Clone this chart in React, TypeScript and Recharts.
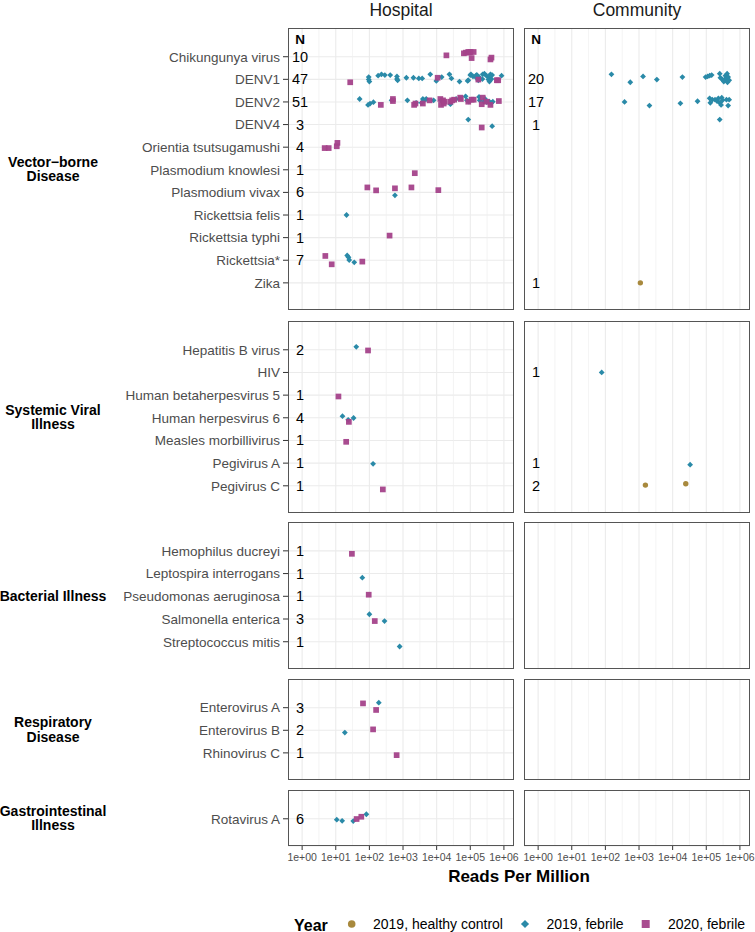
import React from "react";
import { ScatterChart, Scatter, XAxis, YAxis, CartesianGrid, ReferenceLine } from "recharts";

// [row index, log10(reads per million), vertical jitter in rows]
type Pt = [number, number, number];

const FONT = '"Liberation Sans", Arial, Helvetica, sans-serif';

const xMajor = [0, 1, 2, 3, 4, 5, 6];
const xMinor = [0.5, 1.5, 2.5, 3.5, 4.5, 5.5];
const xTickLabels = ["1e+00", "1e+01", "1e+02", "1e+03", "1e+04", "1e+05", "1e+06"];
const X_DOMAIN: [number, number] = [-0.42, 6.3];

const SERIES = {
  healthy: { name: "2019, healthy control", color: "#A8893D", shape: "circle" },
  febrile2019: { name: "2019, febrile", color: "#2A8AA8", shape: "diamond" },
  febrile2020: { name: "2020, febrile", color: "#A4428A", shape: "square" },
};

/* ---------- Vector-borne disease ---------- */
const vectorCategories = [
  "Chikungunya virus", "DENV1", "DENV2", "DENV4", "Orientia tsutsugamushi", "Plasmodium knowlesi",
  "Plasmodium vivax", "Rickettsia felis", "Rickettsia typhi", "Rickettsia*", "Zika",
];
const vectorHospitalN = [10, 47, 51, 3, 4, 1, 6, 1, 1, 7, null];
const vectorCommunityN = [null, 20, 17, 1, null, null, null, null, null, null, 1];

const vectorHospital2019: Pt[] = [
  [1, 1.98, -0.1], [1, 1.98, 0.01], [1, 2.0, 0.1], [1, 2.26, -0.16], [1, 2.36, -0.22], [1, 2.46, -0.19],
  [1, 2.62, -0.19], [1, 2.82, -0.13], [1, 2.82, -0.01], [1, 2.84, 0.04], [1, 3.1, -0.07], [1, 3.31, -0.07],
  [1, 3.47, -0.04], [1, 3.57, -0.04], [1, 3.81, -0.22], [1, 3.99, 0.07], [1, 4.15, -0.1], [1, 4.38, -0.22],
  [1, 4.44, -0.04], [1, 4.68, 0.1], [1, 4.92, 0.07], [1, 4.94, 0.04], [1, 5.0, -0.19], [1, 5.02, -0.22],
  [1, 5.08, -0.13], [1, 5.18, -0.19], [1, 5.18, -0.07], [1, 5.2, -0.19], [1, 5.24, 0.04], [1, 5.26, -0.1],
  [1, 5.28, -0.01], [1, 5.36, -0.01], [1, 5.37, -0.22], [1, 5.42, -0.25], [1, 5.48, -0.16], [1, 5.54, 0.01],
  [1, 5.55, -0.07], [1, 5.57, 0.1], [1, 5.6, -0.22], [1, 5.63, -0.01], [1, 5.65, -0.19], [1, 5.93, -0.16],
  [2, 1.71, -0.13], [2, 1.96, 0.13], [2, 2.02, 0.07], [2, 2.12, 0.01], [2, 2.66, -0.07], [2, 3.13, -0.07],
  [2, 3.39, 0.04], [2, 3.55, 0.04], [2, 3.59, -0.13], [2, 3.63, -0.07], [2, 3.69, -0.13], [2, 3.91, -0.07],
  [2, 4.13, -0.07], [2, 4.41, 0.1], [2, 4.58, -0.13], [2, 4.86, -0.25], [2, 4.9, -0.07], [2, 4.96, -0.01],
  [2, 5.26, -0.22], [2, 5.28, -0.07], [2, 5.4, -0.01], [2, 5.44, -0.13], [2, 5.49, 0.01], [2, 5.57, -0.01],
  [2, 5.63, 0.04], [2, 5.67, -0.01],
  [3, 4.94, -0.22], [3, 5.65, 0.07],
  [6, 2.76, 0.13],
  [7, 1.32, 0],
  [9, 1.34, -0.21], [9, 1.38, -0.13], [9, 1.4, -0.01], [9, 1.55, 0.09],
];
const vectorHospital2020: Pt[] = [
  [0, 4.29, -0.06], [0, 4.81, -0.15], [0, 4.87, -0.18], [0, 4.94, -0.21], [0, 4.98, -0.19], [0, 5.01, -0.21],
  [0, 5.1, -0.21], [0, 5.04, 0.06], [0, 5.6, 0.12], [0, 5.63, 0.04],
  [1, 1.43, 0.13], [1, 4.03, -0.07], [1, 5.24, 0.01], [1, 5.79, 0.04], [1, 5.83, 0.04],
  [2, 2.34, 0.13], [2, 2.7, -0.13], [2, 2.7, -0.04], [2, 3.33, 0.13], [2, 3.37, 0.07], [2, 3.59, 0.07],
  [2, 3.79, -0.07], [2, 4.11, -0.13], [2, 4.13, 0.13], [2, 4.19, -0.07], [2, 4.21, 0.07], [2, 4.24, -0.01],
  [2, 4.41, -0.01], [2, 4.46, -0.07], [2, 4.52, -0.1], [2, 4.7, -0.19], [2, 4.72, -0.13], [2, 4.94, -0.01],
  [2, 5.04, -0.1], [2, 5.1, -0.1], [2, 5.34, 0.1], [2, 5.37, -0.19], [2, 5.49, -0.01], [2, 5.6, 0.13],
  [2, 5.85, -0.04],
  [3, 5.34, 0.13],
  [4, 0.67, 0.04], [4, 0.79, 0.04], [4, 1.03, -0.04], [4, 1.05, -0.19],
  [5, 3.35, 0.15],
  [6, 1.94, -0.22], [6, 2.2, -0.09], [6, 2.76, -0.18], [6, 3.25, -0.22], [6, 4.05, -0.1],
  [8, 2.6, -0.09],
  [9, 0.69, -0.19], [9, 0.88, 0.18], [9, 1.79, 0.06],
];
const vectorCommunity2019: Pt[] = [
  [1, 2.18, -0.22], [1, 2.74, 0.13], [1, 3.12, -0.13], [1, 3.53, 0.01], [1, 4.29, -0.1], [1, 4.98, -0.1],
  [1, 5.04, -0.13], [1, 5.1, -0.16], [1, 5.16, -0.19], [1, 5.4, -0.25], [1, 5.42, -0.07], [1, 5.48, 0.01],
  [1, 5.52, 0.1], [1, 5.56, 0.01], [1, 5.57, -0.16], [1, 5.6, -0.07], [1, 5.62, -0.25], [1, 5.63, 0.13],
  [1, 5.65, -0.1], [1, 5.68, 0.04],
  [2, 2.57, 0], [2, 3.31, 0.16], [2, 4.23, 0.06], [2, 4.74, -0.03], [2, 5.1, -0.16], [2, 5.12, 0.04],
  [2, 5.18, -0.1], [2, 5.26, -0.1], [2, 5.32, -0.04], [2, 5.36, -0.16], [2, 5.4, 0.04], [2, 5.44, 0.13],
  [2, 5.46, -0.19], [2, 5.48, -0.07], [2, 5.6, -0.1], [2, 5.68, -0.1], [2, 5.65, 0.16],
  [3, 5.4, -0.22],
];
const vectorCommunityHealthy: Pt[] = [[10, 3.04, 0]];

/* ---------- Systemic viral illness ---------- */
const systemicCategories = [
  "Hepatitis B virus", "HIV", "Human betaherpesvirus 5", "Human herpesvirus 6",
  "Measles morbillivirus", "Pegivirus A", "Pegivirus C",
];
const systemicHospitalN = [2, null, 1, 4, 1, 1, 1];
const systemicCommunityN = [null, 1, null, null, null, 1, 2];
const systemicHospital2019: Pt[] = [[0, 1.61, -0.13], [3, 1.2, -0.07], [3, 1.37, 0.09], [3, 1.53, 0.01], [5, 2.11, 0.03]];
const systemicHospital2020: Pt[] = [[0, 1.96, 0.03], [2, 1.08, 0.06], [3, 1.39, 0.18], [4, 1.31, 0.06], [6, 2.4, 0.16]];
const systemicCommunity2019: Pt[] = [[1, 1.89, 0], [5, 4.52, 0.07]];
const systemicCommunityHealthy: Pt[] = [[6, 3.19, -0.03], [6, 4.39, -0.09]];

/* ---------- Bacterial illness ---------- */
const bacterialCategories = [
  "Hemophilus ducreyi", "Leptospira interrogans", "Pseudomonas aeruginosa", "Salmonella enterica", "Streptococcus mitis",
];
const bacterialHospitalN = [1, 1, 1, 3, 1];
const bacterialHospital2019: Pt[] = [[1, 1.79, 0.18], [3, 2.0, -0.21], [3, 2.45, 0.09], [4, 2.9, 0.21]];
const bacterialHospital2020: Pt[] = [[0, 1.48, 0.13], [2, 1.98, -0.07], [3, 2.16, 0.09]];

/* ---------- Respiratory disease ---------- */
const respiratoryCategories = ["Enterovirus A", "Enterovirus B", "Rhinovirus C"];
const respiratoryHospitalN = [3, 2, 1];
const respiratoryHospital2019: Pt[] = [[0, 2.28, -0.22], [1, 1.27, 0.1]];
const respiratoryHospital2020: Pt[] = [[0, 1.81, -0.19], [0, 2.2, 0.1], [1, 2.11, -0.04], [2, 2.81, 0.1]];

/* ---------- Gastrointestinal illness ---------- */
const giCategories = ["Rotavirus A"];
const giHospitalN = [6];
const giHospital2019: Pt[] = [[0, 1.03, 0.04], [0, 1.19, 0.09], [0, 1.52, 0.1], [0, 1.91, -0.2]];
const giHospital2020: Pt[] = [[0, 1.62, 0.01], [0, 1.76, -0.09]];

type SiteData = { n: (number | null)[]; healthy: Pt[]; febrile2019: Pt[]; febrile2020: Pt[] };
type Group = { label: string[]; categories: string[]; top: number; hospital: SiteData; community: SiteData; header?: boolean };

const none = (k: number) => Array(k).fill(null);

const groups: Group[] = [
  {
    label: ["Vector\u2212borne", "Disease"], categories: vectorCategories, top: 28, header: true,
    hospital: { n: vectorHospitalN, healthy: [], febrile2019: vectorHospital2019, febrile2020: vectorHospital2020 },
    community: { n: vectorCommunityN, healthy: vectorCommunityHealthy, febrile2019: vectorCommunity2019, febrile2020: [] },
  },
  {
    label: ["Systemic Viral", "Illness"], categories: systemicCategories, top: 321,
    hospital: { n: systemicHospitalN, healthy: [], febrile2019: systemicHospital2019, febrile2020: systemicHospital2020 },
    community: { n: systemicCommunityN, healthy: systemicCommunityHealthy, febrile2019: systemicCommunity2019, febrile2020: [] },
  },
  {
    label: ["Bacterial Illness"], categories: bacterialCategories, top: 522,
    hospital: { n: bacterialHospitalN, healthy: [], febrile2019: bacterialHospital2019, febrile2020: bacterialHospital2020 },
    community: { n: none(5), healthy: [], febrile2019: [], febrile2020: [] },
  },
  {
    label: ["Respiratory", "Disease"], categories: respiratoryCategories, top: 679,
    hospital: { n: respiratoryHospitalN, healthy: [], febrile2019: respiratoryHospital2019, febrile2020: respiratoryHospital2020 },
    community: { n: none(3), healthy: [], febrile2019: [], febrile2020: [] },
  },
  {
    label: ["Gastrointestinal", "Illness"], categories: giCategories, top: 790,
    hospital: { n: giHospitalN, healthy: [], febrile2019: giHospital2019, febrile2020: giHospital2020 },
    community: { n: none(1), healthy: [], febrile2019: [], febrile2020: [] },
  },
];

const ROW_PX = 22.65;
const PANEL_W = 226;
const HOSP_LEFT = 288;
const COMM_LEFT = 524;
const panelHeight = (g: Group) => Math.round((g.categories.length - 1 + 2.47) * ROW_PX);

function marker(kind: string, color: string, s = 1) {
  return (props: any) => {
    const { cx, cy } = props;
    if (cx == null || cy == null) return <g />;
    if (kind === "circle") return <circle cx={cx} cy={cy} r={2.7 * s} fill={color} />;
    if (kind === "diamond") {
      const r = 2.9 * s;
      return <polygon points={`${cx},${cy - r} ${cx + r},${cy} ${cx},${cy + r} ${cx - r},${cy}`} fill={color} />;
    }
    const h = 2.85 * s;
    return <rect x={cx - h} y={cy - h} width={2 * h} height={2 * h} fill={color} fillOpacity={0.95} />;
  };
}

const countShape = (bold: boolean) => (props: any) => {
  const { cx, cy, payload } = props;
  if (cx == null) return <g />;
  return (
    <text x={cx - 2} y={cy} textAnchor="middle" dominantBaseline="central" fontSize={bold ? 13.5 : 14.5}
      fontWeight={bold ? "bold" : "normal"} fill="#000">
      {payload.label}
    </text>
  );
};

function Panel({ group, site, showX }: { group: Group; site: "hospital" | "community"; showX: boolean }) {
  const isHosp = site === "hospital";
  const d = group[site];
  const n = group.categories.length;
  const h = panelHeight(group);
  const yW = isHosp ? HOSP_LEFT : 10;
  const left = isHosp ? 0 : COMM_LEFT - 10;
  const rightPad = isHosp ? 12 : 5;
  const axisH = showX ? 26 : 0;
  const yTicks = group.categories.map((_, i) => i);
  const toPts = (pts: Pt[]) => pts.map(([r, x, j]) => ({ x, y: r + j }));
  const counts = d.n
    .map((v, i) => (v == null ? null : { x: 0, y: i, label: String(v) }))
    .filter(Boolean) as any[];
  const header = group.header ? [{ x: 0, y: -0.78, label: "N" }] : [];

  return (
    <div style={{ position: "absolute", left, top: group.top }}>
      <ScatterChart width={yW + PANEL_W + rightPad} height={h + axisH} margin={{ top: 0, right: rightPad, bottom: 0, left: 0 }}>
        <CartesianGrid vertical={false} stroke="#EBEBEB" strokeWidth={1.1} />
        {xMinor.map((v) => (
          <ReferenceLine key={`mi${v}`} x={v} stroke="#EFEFEF" strokeWidth={0.7} />
        ))}
        {xMajor.map((v) => (
          <ReferenceLine key={`ma${v}`} x={v} stroke="#EBEBEB" strokeWidth={1.1} />
        ))}
        {showX ? (
          <XAxis type="number" dataKey="x" domain={X_DOMAIN} allowDataOverflow ticks={xMajor} interval={0}
            tickFormatter={(v: number) => xTickLabels[v] ?? ""} tick={{ fontSize: 10.5, fill: "#4D4D4D" }}
            tickSize={4} tickMargin={4} axisLine={false} tickLine={{ stroke: "#333" }} height={axisH} />
        ) : (
          <XAxis type="number" dataKey="x" domain={X_DOMAIN} allowDataOverflow ticks={xMajor} hide />
        )}
        <YAxis type="number" dataKey="y" domain={[-1.27, n - 1 + 1.2]} allowDataOverflow reversed ticks={yTicks}
          interval={0} width={yW} tick={isHosp ? { fontSize: 13.5, fill: "#4D4D4D" } : false}
          tickFormatter={(v: number) => group.categories[v] ?? ""} tickSize={isHosp ? 5 : 0} tickMargin={3}
          axisLine={false} tickLine={isHosp ? { stroke: "#333" } : false} />
        <Scatter name={SERIES.healthy.name} data={toPts(d.healthy)} shape={marker("circle", SERIES.healthy.color)} isAnimationActive={false} />
        <Scatter name={SERIES.febrile2019.name} data={toPts(d.febrile2019)} shape={marker("diamond", SERIES.febrile2019.color)} isAnimationActive={false} />
        <Scatter name={SERIES.febrile2020.name} data={toPts(d.febrile2020)} shape={marker("square", SERIES.febrile2020.color)} isAnimationActive={false} />
        <Scatter data={counts} shape={countShape(false)} isAnimationActive={false} />
        <Scatter data={header} shape={countShape(true)} isAnimationActive={false} />
      </ScatterChart>
      <div style={{
        position: "absolute", left: yW, top: 0, width: PANEL_W, height: h,
        boxSizing: "border-box", border: "1px solid #555", pointerEvents: "none",
      }} />
    </div>
  );
}

export default function App() {
  const legendItems = [
    { key: "healthy", sx: 351.7, tx: 373 },
    { key: "febrile2019", sx: 525, tx: 546.5 },
    { key: "febrile2020", sx: 645.7, tx: 668 },
  ] as const;
  const midX = (HOSP_LEFT + COMM_LEFT + PANEL_W) / 2;

  return (
    <div style={{ position: "absolute", left: 0, top: 0, width: 755, height: 932, background: "#fff", fontFamily: FONT, overflow: "hidden" }}>
      <svg width={755} height={932} style={{ position: "absolute", left: 0, top: 0 }}>
        <text x={HOSP_LEFT + PANEL_W / 2} y={15.5} textAnchor="middle" fontSize={17.5} fill="#1A1A1A">Hospital</text>
        <text x={COMM_LEFT + PANEL_W / 2} y={15.5} textAnchor="middle" fontSize={17.5} fill="#1A1A1A">Community</text>
        {groups.map((g) => {
          const cy = g.top + panelHeight(g) / 2;
          return g.label.map((line, k) => (
            <text key={g.label[0] + k} x={53} y={cy + (k - (g.label.length - 1) / 2) * 14.5 + 5}
              textAnchor="middle" fontSize={14} fontWeight="bold" fill="#000">{line}</text>
          ));
        })}
        <text x={midX} y={882} textAnchor="middle" fontSize={17} fontWeight="bold" fill="#000">Reads Per Million</text>
        <text x={294} y={930.5} fontSize={16} fontWeight="bold" fill="#000">Year</text>
        {legendItems.map((it) => {
          const s = SERIES[it.key];
          const shape = marker(s.shape, s.color, 1.4)({ cx: it.sx, cy: 924 });
          return (
            <g key={it.key}>
              {shape}
              <text x={it.tx} y={928.8} fontSize={14} fill="#000">{s.name}</text>
            </g>
          );
        })}
      </svg>
      {groups.map((g, i) => (
        <React.Fragment key={g.label[0]}>
          <Panel group={g} site="hospital" showX={i === groups.length - 1} />
          <Panel group={g} site="community" showX={i === groups.length - 1} />
        </React.Fragment>
      ))}
    </div>
  );
}
